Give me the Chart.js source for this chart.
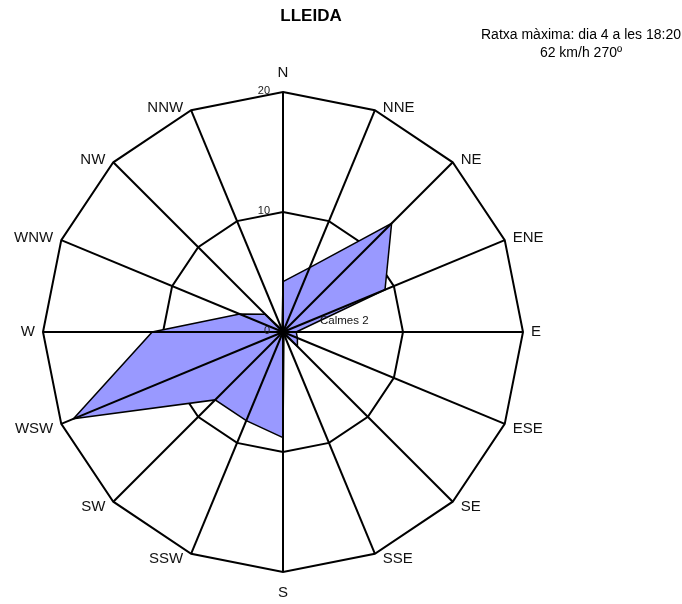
<!DOCTYPE html>
<html>
<head>
<meta charset="utf-8">
<script src="https://cdn.jsdelivr.net/npm/chart.js@4"></script>
<style>
  html, body { margin:0; padding:0; background:#fff; }
  #wrap { position:relative; width:682px; height:604px; }
  canvas { position:absolute; left:0; top:0; }
  .title { position:absolute; left:0; width:622px; top:6px; text-align:center;
           font:bold 17px "Liberation Sans", Arial, sans-serif; line-height:19px; color:#000; }
  .note { position:absolute; left:470px; width:222px; top:25px; text-align:center;
          font:14px "Liberation Sans", Arial, sans-serif; line-height:18px; color:#000; white-space:nowrap; }
</style>
</head>
<body>
<div id="wrap">
  <canvas id="c" width="682" height="604"></canvas>
  <div class="title">LLEIDA</div>
  <div class="note">Ratxa màxima: dia 4 a les 18:20<br>62 km/h 270º</div>
</div>
<script>
// ---- data ----
const directions = ['N','NNE','NE','ENE','E','ESE','SE','SSE','S','SSW','SW','WSW','W','WNW','NW','NNW'];
const frequencies = [4.2, 5.8, 12.8, 9.2, 1.1, 1.3, 1.7, 0.2, 8.8, 8.0, 8.0, 18.9, 10.9, 3.9, 2.1, 0.2];
const tickValues = [0, 10, 20];
const calmsLabel = 'Calmes 2';

const FONT = '"Liberation Sans", Arial, sans-serif';

const overlayPlugin = {
  id: 'overlay',
  afterDatasetsDraw(chart) {
    const s = chart.scales.r;
    const ctx = chart.ctx;
    ctx.save();
    // angle lines on top of the fill
    ctx.strokeStyle = '#000';
    ctx.lineWidth = 2;
    for (let i = 0; i < directions.length; i++) {
      const p = s.getPointPosition(i, s.drawingArea);
      ctx.beginPath();
      ctx.moveTo(s.xCenter, s.yCenter);
      ctx.lineTo(p.x, p.y);
      ctx.stroke();
    }
    // tick labels
    ctx.fillStyle = '#222';
    ctx.font = '11px ' + FONT;
    ctx.textAlign = 'right';
    ctx.textBaseline = 'middle';
    tickValues.forEach(v => {
      const p = s.getPointPositionForValue(0, v);
      ctx.fillText(String(v), s.xCenter - 13, p.y - 1);
    });
    // calms
    ctx.fillStyle = '#111';
    ctx.font = '11.5px ' + FONT;
    ctx.textAlign = 'left';
    ctx.fillText(calmsLabel, s.xCenter + 37, s.yCenter - 11);
    // direction labels
    ctx.font = '15px ' + FONT;
    ctx.fillStyle = '#111';
    directions.forEach((lab, i) => {
      const p = s.getPointPosition(i, s.drawingArea);
      const a = i * 2 * Math.PI / directions.length;
      const sx = Math.sin(a), cy = Math.cos(a);
      let x = p.x, y = p.y, align;
      if (Math.abs(sx) < 0.01) {
        align = 'center';
        y += cy > 0 ? -19 : 21;
      } else {
        align = sx > 0 ? 'left' : 'right';
        x += sx > 0 ? 8 : -8;
        y += cy > 0.01 ? -2.5 : (cy < -0.01 ? 5.5 : 0);
      }
      ctx.textAlign = align;
      ctx.fillText(lab, x, y);
    });
    ctx.restore();
  }
};

new Chart(document.getElementById('c'), {
  type: 'radar',
  data: {
    labels: directions,
    datasets: [{
      data: frequencies,
      backgroundColor: '#9999ff',
      borderColor: '#000',
      borderWidth: 1.5,
      pointRadius: 0,
      fill: true,
      tension: 0
    }]
  },
  options: {
    responsive: false,
    animation: false,
    layout: { padding: { left: 43, right: 159, top: 92, bottom: 32 } },
    plugins: { legend: { display: false }, tooltip: { enabled: false }, title: { display: false } },
    scales: {
      r: {
        min: 0,
        max: 20,
        ticks: { display: false, stepSize: 10 },
        grid: { circular: false, color: '#000', lineWidth: 2 },
        angleLines: { display: false },
        pointLabels: { display: false }
      }
    }
  },
  plugins: [overlayPlugin]
});
</script>
</body>
</html>
